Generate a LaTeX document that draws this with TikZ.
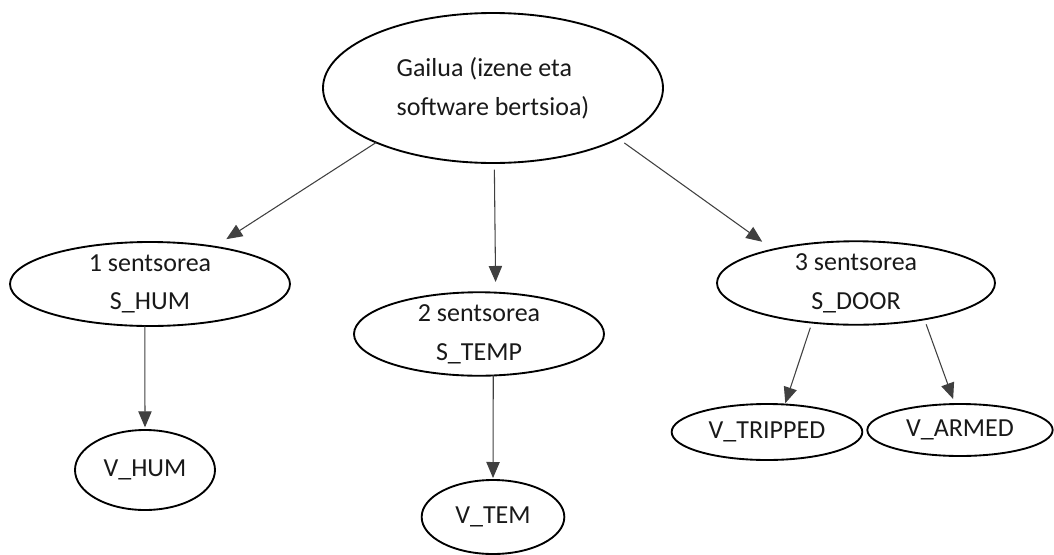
\documentclass[tikz,border=0pt]{standalone}
\usepackage{fontspec}
\setmainfont{Carlito}
\usetikzlibrary{shapes.geometric,arrows.meta}

\begin{document}
\begin{tikzpicture}[x=0.75pt,y=-0.75pt,
  every node/.style={font=\fontsize{19.5}{29}\selectfont,text=black!90},
  oval/.style={draw,ellipse,line width=1.4pt,inner sep=0pt,outer sep=0pt,align=center},
  link/.style={draw=black!75,line width=0.8pt,-{Triangle[length=12pt,width=10pt]}}]
\useasboundingbox (0,0) rectangle (1054,554);
\node[oval,minimum width=255pt,minimum height=112.5pt,align=left] (gailua) at (493,88) {Gailua (izene eta\\software bertsioa)};
\node[oval,minimum width=210pt,minimum height=63pt] (s1) at (150,284) {1 sentsorea\\S\_HUM};
\node[oval,minimum width=187.5pt,minimum height=61.5pt] (s2) at (479,334) {2 sentsorea\\S\_TEMP};
\node[oval,minimum width=208.5pt,minimum height=60pt] (s3) at (856,283) {3 sentsorea\\S\_DOOR};
\node[oval,minimum width=105pt,minimum height=60pt] (vhum) at (145,470) {V\_HUM};
\node[oval,minimum width=107pt,minimum height=55.5pt] (vtem) at (493,517) {V\_TEM};
\node[oval,minimum width=143pt,minimum height=42pt] (vtripped) at (767,432) {V\_TRIPPED};
\node[oval,minimum width=139pt,minimum height=39pt] (varmed) at (960,430) {V\_ARMED};
\draw[link,shorten >=10.5pt] (gailua.205) -- (s1.30);
\draw[link,shorten <=5pt,shorten >=8pt] (gailua.271.5) -- (s2.68.5);
\draw[link,shorten <=5.5pt,shorten >=10pt] (gailua.338) -- (s3.158.9);
\draw[link,shorten >=2pt] (s1.263.2) -- (vhum.north);
\draw[link,shorten >=1.5pt] (s2.289) -- (vtem.north);
\draw[link,shorten <=4pt,shorten >=1pt] (s3.222.9) -- (vtripped.57.7);
\draw[link,shorten <=4pt,shorten >=4pt] (s3.332.4) -- (varmed.101.3);
\end{tikzpicture}
\end{document}
